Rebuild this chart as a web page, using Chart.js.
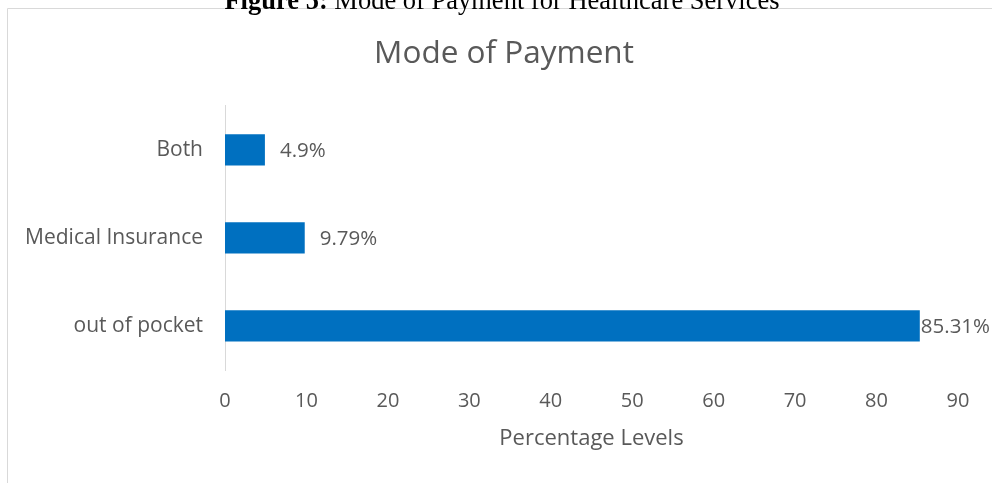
<!DOCTYPE html>
<html><head><meta charset="utf-8">
<script src="https://cdn.jsdelivr.net/npm/chart.js@4/dist/chart.umd.min.js"></script>
<style>
html,body{margin:0;padding:0;background:#fff;overflow:hidden;}
#wrap{position:relative;width:992px;height:483px;}
#cap{position:absolute;left:0;width:1004px;top:-13px;text-align:center;font-family:"Liberation Serif","Times New Roman",serif;font-size:26.5px;color:#000;white-space:nowrap;line-height:26px;z-index:2;}
canvas{position:absolute;left:0;top:0;}
</style></head>
<body><div id="wrap"><div id="cap"><b>Figure 5:</b> Mode of Payment for Healthcare Services</div><canvas id="c" width="992" height="483"></canvas></div>
<script>
const categories = ['Both', 'Medical Insurance', 'out of pocket'];
const values = [4.9, 9.79, 85.31];
const valueLabels = ['4.9%', '9.79%', '85.31%'];
const xMin = 0, xMax = 90, xStep = 10;
const chartTitle = 'Mode of Payment';
const xAxisTitle = 'Percentage Levels';

const FONT = '"Open Sans", Lato, sans-serif';
const GREY = '#595959';

const framePlugin = {
  id: 'frame',
  beforeDraw(chart) {
    const c = chart.ctx;
    c.save();
    c.strokeStyle = '#d9d9d9';
    c.lineWidth = 1;
    c.beginPath();
    c.moveTo(7.5, 483); c.lineTo(7.5, 8.5); c.lineTo(992, 8.5);
    c.stroke();
    c.restore();
  }
};
const labelPlugin = {
  id: 'vlabels',
  afterDatasetsDraw(chart) {
    const c = chart.ctx;
    const meta = chart.getDatasetMeta(0);
    c.save();
    c.font = '20.5px ' + FONT;
    c.fillStyle = GREY;
    c.textBaseline = 'middle';
    c.textAlign = 'left';
    meta.data.forEach((bar, i) => {
      const t = valueLabels[i];
      const w = c.measureText(t).width;
      let x = bar.x + 15;
      if (x + w > chart.width) x = bar.x + 1;
      c.fillText(t, x, bar.y + 1);
    });
    c.restore();
  }
};

new Chart(document.getElementById('c'), {
  type: 'bar',
  data: {
    labels: categories,
    datasets: [{
      data: values,
      backgroundColor: '#0070C0',
      borderWidth: 0,
      barPercentage: 0.355,
      categoryPercentage: 1.0
    }]
  },
  options: {
    indexAxis: 'y',
    responsive: false,
    animation: false,
    events: [],
    layout: { padding: { left: 16, right: 0, top: 0, bottom: 31 } },
    plugins: {
      legend: { display: false },
      tooltip: { enabled: false },
      title: {
        display: true,
        text: chartTitle,
        color: GREY,
        font: { family: FONT, size: 31.5, weight: 'normal' },
        padding: { top: 35, bottom: 33 }
      }
    },
    scales: {
      y: {
        grid: { display: false, drawTicks: false },
        border: { display: true, color: '#d9d9d9', width: 1 },
        ticks: { color: GREY, font: { family: FONT, size: 21 }, padding: 22 },
        afterFit(s) { s.width = 209; }
      },
      x: {
        min: xMin, max: xMax,
        grid: { display: false, drawTicks: false },
        border: { display: false },
        ticks: { stepSize: xStep, color: GREY, font: { family: FONT, size: 20 }, padding: 19, maxRotation: 0 },
        title: { display: true, text: xAxisTitle, color: GREY, font: { family: FONT, size: 22 }, padding: { top: 4, bottom: 0 } },
        afterFit(s) { s.height = 82; s.paddingRight = 34; }
      }
    }
  },
  plugins: [framePlugin, labelPlugin]
});
</script></body></html>
